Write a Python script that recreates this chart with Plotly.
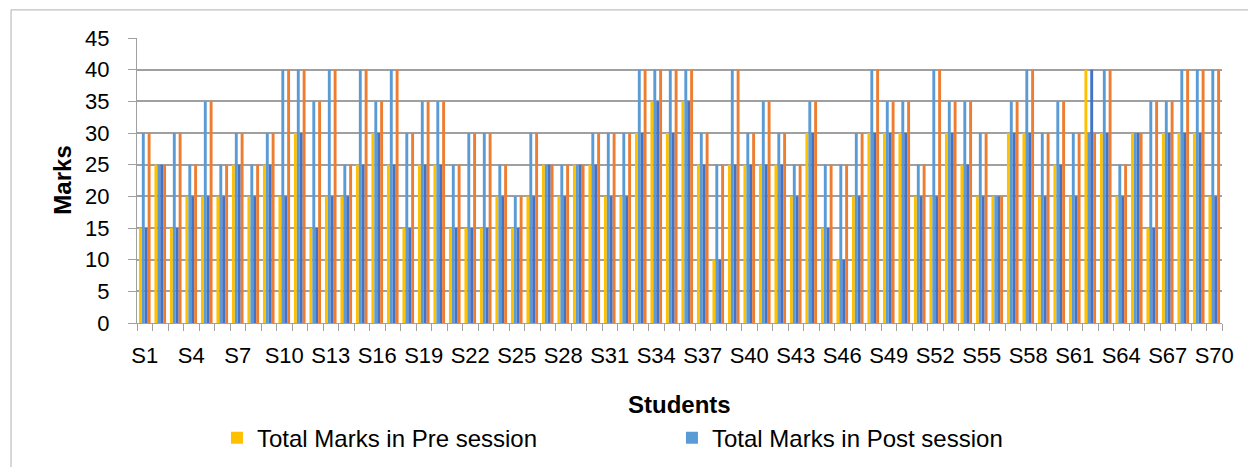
import plotly.graph_objects as go

# Student labels and marks (out of 45)
students = [f"S{i}" for i in range(1, 71)]

pre_marks = [
    15, 25, 15, 20, 20, 20, 25, 20, 25, 20,
    30, 15, 20, 20, 25, 30, 25, 15, 25, 25,
    15, 15, 15, 20, 15, 20, 25, 20, 25, 25,
    20, 20, 30, 35, 30, 35, 25, 10, 25, 25,
    25, 25, 20, 30, 15, 10, 20, 30, 30, 30,
    20, 20, 30, 25, 20, 20, 30, 30, 20, 25,
    20, 40, 30, 20, 30, 15, 30, 30, 30, 20,
]

post_marks = [
    30, 25, 30, 25, 35, 25, 30, 25, 30, 40,
    40, 35, 40, 25, 40, 35, 40, 30, 35, 35,
    25, 30, 30, 25, 20, 30, 25, 25, 25, 30,
    30, 30, 40, 40, 40, 40, 30, 25, 40, 30,
    35, 30, 25, 35, 25, 25, 30, 40, 35, 35,
    25, 40, 35, 35, 30, 20, 35, 40, 30, 35,
    30, 30, 40, 25, 30, 35, 35, 40, 40, 40,
]

x_pos = list(range(1, len(students) + 1))
tick_idx = list(range(0, len(students), 3))

FONT = "Liberation Sans, Arial, sans-serif"
GRID = "#A0A0A0"

fig = go.Figure()

series = [
    ("Total Marks in Pre session", pre_marks, "#FFC000", True),
    ("Total Marks in Post session", post_marks, "#5B9BD5", True),
    ("Total Marks in Pre session (2)", pre_marks, "#4472C4", False),
    ("Total Marks in Post session (2)", post_marks, "#ED7D31", False),
]
for name, vals, color, show in series:
    fig.add_trace(go.Bar(
        x=x_pos, y=vals, name=name,
        marker=dict(color=color, line=dict(width=0)),
        showlegend=show,
    ))

# Chart frame
fig.add_shape(type="rect", xref="paper", yref="paper",
              x0=-0.1161, x1=1.03, y0=-0.53, y1=1.0986,
              line=dict(color="#B0B0B0", width=1), layer="below")

fig.add_annotation(text="<b>Marks</b>", xref="paper", yref="paper",
                   x=-0.069, y=0.5, textangle=-90, showarrow=False,
                   xanchor="center", yanchor="middle",
                   font=dict(family=FONT, size=24, color="black"))
fig.add_annotation(text="<b>Students</b>", xref="paper", yref="paper",
                   x=0.5, y=-0.285, showarrow=False,
                   xanchor="center", yanchor="middle",
                   font=dict(family=FONT, size=24, color="black"))

fig.update_layout(
    width=1248, height=467,
    margin=dict(l=137, r=26, t=38, b=144, autoexpand=False),
    paper_bgcolor="white", plot_bgcolor="white",
    barmode="group", bargap=0.25, bargroupgap=0,
    font=dict(family=FONT, color="black"),
    legend=dict(
        orientation="h", x=0.0737, y=-0.325, xanchor="left", yanchor="top",
        font=dict(family=FONT, size=24, color="black"),
        entrywidth=410, entrywidthmode="pixels",
        bgcolor="rgba(0,0,0,0)",
    ),
)

fig.update_xaxes(
    range=[0.5, len(students) + 0.5],
    tickvals=[x_pos[i] for i in tick_idx],
    ticktext=[students[i] for i in tick_idx],
    ticks="outside", ticklen=7, tickcolor="rgba(0,0,0,0)",
    tickfont=dict(family=FONT, size=22, color="black"),
    ticklabelstandoff=6,
    showline=True, linecolor=GRID, linewidth=1,
    showgrid=False, zeroline=False,
    minor=dict(tickvals=[i + 0.5 for i in range(0, len(students) + 1)],
               ticks="outside", ticklen=7, tickcolor=GRID, showgrid=False),
)

fig.update_yaxes(
    range=[0, 45], dtick=5, tick0=0,
    ticks="outside", ticklen=8, tickcolor=GRID,
    tickfont=dict(family=FONT, size=22, color="black"),
    ticklabelstandoff=14,
    showline=True, linecolor=GRID, linewidth=1,
    showgrid=True, gridcolor=GRID, gridwidth=1.5,
    zeroline=False,
)

fig.write_html("out.html")
